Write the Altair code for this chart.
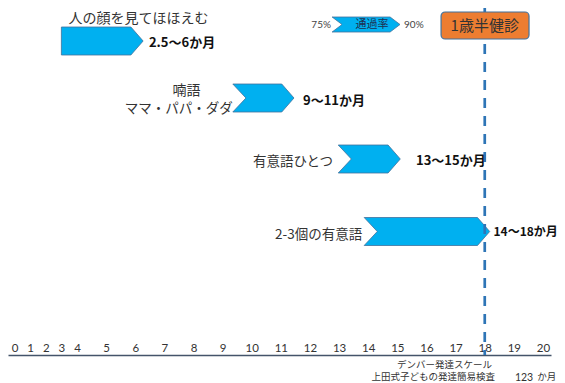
import altair as alt
import pandas as pd

# ---------------- data ----------------
milestones = ["人の顔を見てほほえむ", "喃語", "有意語ひとつ", "2-3個の有意語"]
babble_words = "ママ・パパ・ダダ"
range_labels = ["2.5〜6か月", "9〜11か月", "13〜15か月", "14〜18か月"]
arrow_from = [3.0, 9.35, 12.97, 13.86]     # months, left edge of arrow
arrow_to = [6.27, 11.45, 15.10, 18.17]     # months, arrow tip
arrow_notched = [False, True, True, True]
month_ticks = list(range(0, 21))
legend_text = "通過率"
legend_lo = "75%"
legend_hi = "90%"
legend_from = 12.76
legend_to = 15.09
checkup_month = 18
checkup_text = "1歳半健診"
scale_notes = ["デンバー発達スケール", "上田式子どもの発達簡易検査"]
unit_notes = ["123", "か月"]

# ---------------- layout ----------------
W = 549
AXIS_Y = 347           # plot height: the axis line sits at the plot bottom
BOTTOM_PAD = 28
row_y = [33, 90, 151, 223.5]
HALF = 14
NOTCH = 0.45
TIP = 0.42
JP = "Noto Sans CJK JP"

xscale = alt.Scale(domain=[-0.42, 4, 20, 20.28], range=[0, 69, 535, 543],
                   nice=False, zero=False)
yscale = alt.Scale(domain=[0, AXIS_Y], range=[0, AXIS_Y], nice=False, zero=False)

axis = alt.Axis(orient="bottom", values=month_ticks, ticks=False, tickSize=0,
                grid=False, domainColor="#44546A", domainWidth=1.5,
                labelFont="Lato", labelFontSize=11.5, labelColor="#333333",
                labelBaseline="alphabetic", labelPadding=-4, title=None,
                labelFlush=False, labelOverlap=False, format="d")


def X(field):
    return alt.X(field, scale=xscale, axis=axis)


def Y(field):
    return alt.Y(field, scale=yscale, axis=None)


# ---------------- arrow polygons (closed outlines) ----------------
rows = []


def chevron(key, yc, half, x0, x1, notch, tip):
    pts = [(x0, yc - half), (x1 - tip, yc - half), (x1, yc),
           (x1 - tip, yc + half), (x0, yc + half), (x0 + notch, yc),
           (x0, yc - half)]
    for k, (px, py) in enumerate(pts):
        rows.append(dict(key=key, i=k, x=px, y=py))


for i in range(len(milestones)):
    chevron(f"a{i}", row_y[i], HALF, arrow_from[i], arrow_to[i],
            NOTCH if arrow_notched[i] else 0.0, TIP)
chevron("legend", 16.5, 7.5, legend_from, legend_to, 0.34, 0.34)
arrows_df = pd.DataFrame(rows)

arrows = alt.Chart(arrows_df).mark_line(
    fill="#00B0F0", filled=True, stroke="#41719C", strokeWidth=0.8,
    strokeJoin="miter", fillOpacity=1
).encode(
    x=X("x:Q"),
    y=Y("y:Q"),
    detail="key:N",
    order="i:Q",
)

# dashed 18-month line
rule_df = pd.DataFrame({"x": [checkup_month], "y": [0], "y2": [AXIS_Y]})
rule = alt.Chart(rule_df).mark_rule(
    color="#2E75B6", strokeWidth=2.7, strokeDash=[10, 8]
).encode(x=X("x:Q"), y=Y("y:Q"), y2="y2:Q")

# 1歳半健診 box
box_df = pd.DataFrame({"x": [16.50], "x2": [19.52], "y": [4], "y2": [31],
                       "xc": [checkup_month], "yc": [17.5], "t": [checkup_text]})
box = alt.Chart(box_df).mark_rect(
    fill="#ED7D31", stroke="#41719C", strokeWidth=1.2, cornerRadius=4
).encode(x=X("x:Q"), x2="x2:Q", y=Y("y:Q"), y2="y2:Q")
box_text = alt.Chart(box_df).mark_text(
    font=JP, fontSize=15, color="#333333", baseline="middle", align="center"
).encode(x=X("xc:Q"), y=Y("yc:Q"), text="t:N")


def text_layer(df, align, size, color, weight="normal", font=JP):
    return alt.Chart(df).mark_text(
        font=font, fontSize=size, color=color, fontWeight=weight,
        align=align, baseline="middle"
    ).encode(x=X("x:Q"), y=Y("y:Q"), text="t:N")


# milestone labels
ms_center = pd.DataFrame({"x": [6.11, 7.76], "y": [10.5, 83],
                          "t": [milestones[0], milestones[1]]})
ms_right = pd.DataFrame({"x": [arrow_from[1], 12.79, 13.79],
                         "y": [100.5, 154, 227],
                         "t": [babble_words, milestones[2], milestones[3]]})
rng = pd.DataFrame({"x": [6.47, 11.76, 15.64], "y": [35, 93, 153],
                    "t": range_labels[:3]})
rng_last = pd.DataFrame({"x": [18.3], "y": [224], "t": [range_labels[3]]})

leg_mid = pd.DataFrame({"x": [14.13], "y": [17], "t": [legend_text]})
leg_lo = pd.DataFrame({"x": [12.72], "y": [17], "t": [legend_lo]})
leg_hi = pd.DataFrame({"x": [15.23], "y": [17], "t": [legend_hi]})

notes = pd.DataFrame({"x": [18.25, 18.35], "y": [357, 368.5], "t": scale_notes})
unit_num = pd.DataFrame({"x": [19.35], "y": [370], "t": [unit_notes[0]]})
unit_txt = pd.DataFrame({"x": [19.8], "y": [369], "t": [unit_notes[1]]})

chart = alt.layer(
    arrows,
    rule,
    box,
    box_text,
    text_layer(ms_center, "center", 14, "#333333"),
    text_layer(ms_right, "right", 13.5, "#333333"),
    text_layer(rng, "left", 13, "#111111", weight="bold"),
    text_layer(rng_last, "left", 12, "#111111", weight="bold"),
    text_layer(leg_mid, "center", 11, "#1F2F4F"),
    text_layer(leg_lo, "right", 10, "#444444", font="Lato"),
    text_layer(leg_hi, "left", 10, "#444444", font="Lato"),
    text_layer(notes, "right", 9.5, "#333333"),
    text_layer(unit_num, "center", 10.5, "#333333", font="Lato"),
    text_layer(unit_txt, "left", 9.5, "#333333"),
).properties(
    width=W, height=AXIS_Y,
    padding={"left": 0, "top": 0, "right": 0, "bottom": BOTTOM_PAD},
    autosize=alt.AutoSizeParams(type="none"),
    background="white",
).configure_view(stroke=None)

chart.save("out.html", embed_options={"renderer": "svg", "actions": False})
